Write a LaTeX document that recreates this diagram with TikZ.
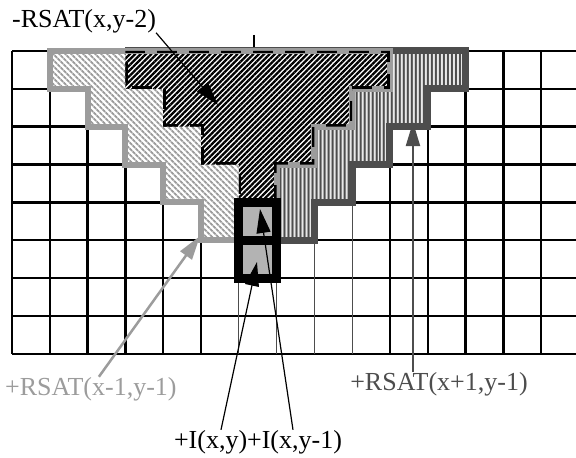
\documentclass[tikz,border=0pt]{standalone}
\usepackage{fontspec}
\setmainfont{Liberation Serif}
\usetikzlibrary{arrows.meta,patterns.meta}
\definecolor{rsatlight}{HTML}{9C9C9C}
\definecolor{rsatdark}{HTML}{4D4D4D}
\definecolor{pixgray}{HTML}{B3B3B3}

\begin{document}
\begin{tikzpicture}[x=37.8pt,y=-37.85pt,>={Triangle[length=24pt,width=14pt]},
  gridline/.style={line width=2.5pt},
  thinline/.style={line width=1pt,rsatdark},
  lab/.style={font=\fontsize{26}{30}\selectfont,inner sep=0pt}]
\useasboundingbox (-0.3175,-1.3474) rectangle (14.921,10.753);
% labels
\node[lab,anchor=base west] (dlab) at (0,-0.634) {-RSAT(x,y-2)};
\node[lab,anchor=base west,text=rsatlight] (lmlab) at (-0.185,9.089) {+RSAT(x-1,y-1)};
\node[lab,anchor=base,text=rsatdark] (rplab) at (11.296,8.957) {+RSAT(x+1,y-1)};
\node[lab,anchor=base] (ilab) at (6.508,10.489) {+I(x,y)+I(x,y-1)};
\coordinate (tipA) at (5.450,1.427);
\coordinate (tipB) at (4.974,4.888);
\coordinate (tipC) at (10.608,1.876);
\coordinate (tipD) at (6.481,5.575);
\coordinate (tipE) at (6.561,4.174);
% grid
\foreach \r in {0,...,8} \draw[gridline] (0,\r)--(15,\r);
\foreach \c in {0,1,2,3,4,5,10,11,12,13,14} \draw[gridline] (\c,0)--(\c,8);
\foreach \c in {6,...,9} \draw[thinline] (\c,0)--(\c,8);
\draw[line width=2pt] (6.415,-0.423)--(6.415,-0.079);
% RSAT(x-1,y-1)
\fill[white] (1,0)--(10,0)--(10,1)--(9,1)--(9,2)--(8,2)--(8,3)--(7,3)--(7,4)--(6,4)--(6,5)--(5,5)--(5,4)--(4,4)--(4,3)--(3,3)--(3,2)--(2,2)--(2,1)--(1,1)--cycle;
\fill[pattern={Lines[angle=-45,distance=4pt,line width=2.1pt]},pattern color=rsatlight]
  (1,0)--(10,0)--(10,1)--(9,1)--(9,2)--(8,2)--(8,3)--(7,3)--(7,4)--(6,4)--(6,5)--(5,5)--(5,4)--(4,4)--(4,3)--(3,3)--(3,2)--(2,2)--(2,1)--(1,1)--cycle;
% RSAT(x+1,y-1)
\fill[white] (3,0)--(12,0)--(12,1)--(11,1)--(11,2)--(10,2)--(10,3)--(9,3)--(9,4)--(8,4)--(8,5)--(7,5)--(7,4)--(6,4)--(6,3)--(5,3)--(5,2)--(4,2)--(4,1)--(3,1)--cycle;
\fill[pattern={Lines[angle=90,distance=4pt,line width=2.2pt]},pattern color=rsatdark]
  (3,0)--(12,0)--(12,1)--(11,1)--(11,2)--(10,2)--(10,3)--(9,3)--(9,4)--(8,4)--(8,5)--(7,5)--(7,4)--(6,4)--(6,3)--(5,3)--(5,2)--(4,2)--(4,1)--(3,1)--cycle;
% RSAT(x,y-2)
\fill[white] (3,0)--(10,0)--(10,1)--(9,1)--(9,2)--(8,2)--(8,3)--(7,3)--(7,4)--(6,4)--(6,3)--(5,3)--(5,2)--(4,2)--(4,1)--(3,1)--cycle;
\fill[pattern={Lines[angle=45,distance=3.8pt,line width=2.3pt]},pattern color=black]
  (3,0)--(10,0)--(10,1)--(9,1)--(9,2)--(8,2)--(8,3)--(7,3)--(7,4)--(6,4)--(6,3)--(5,3)--(5,2)--(4,2)--(4,1)--(3,1)--cycle;
\draw[->,line width=2pt,rsatdark] (tipC |- rplab.north)--(tipC);
% outlines
\draw[rsatdark,line width=7pt] (7,5)--(8,5)--(8,4)--(9,4)--(9,3)--(10,3)--(10,2)--(11,2)--(11,1)--(12,1)--(12,0)--(3,0);
\draw[rsatlight,line width=6pt] (1,0)--(10,0)--(10,1)--(9,1)--(9,2)--(8,2)--(8,3)--(7,3)--(7,4)--(6,4)--(6,5)--(5,5)--(5,4)--(4,4)--(4,3)--(3,3)--(3,2)--(2,2)--(2,1)--(1,1)--cycle;
\begin{scope}
\clip (3,0)--(10,0)--(10,1)--(9,1)--(9,2)--(8,2)--(8,3)--(7,3)--(7,4)--(6,4)--(6,3)--(5,3)--(5,2)--(4,2)--(4,1)--(3,1)--cycle;
\draw[line width=5pt,dash pattern=on 20pt off 12pt] (3,0)--(10,0)--(10,1)--(9,1)--(9,2)--(8,2)--(8,3)--(7,3)--(7,4)--(6,4)--(6,3)--(5,3)--(5,2)--(4,2)--(4,1)--(3,1)--cycle;
\end{scope}
% pixels I(x,y), I(x,y-1)
\fill[pixgray] (6,4) rectangle (7,6);
\draw[line width=9pt] (6,4) rectangle (7,6);
\draw[line width=9pt] (6,5)--(7,5);
% arrows
\draw[->,line width=1.2pt] (dlab.south east)--(tipA);
\draw[->,line width=2.5pt,rsatlight] ([xshift=8pt]lmlab.north)--(tipB);
\draw[->,line width=1.2pt] ([xshift=-37pt]ilab.north)--(tipD);
\draw[->,line width=1.2pt] ([xshift=35pt]ilab.north)--(tipE);
\end{tikzpicture}
\end{document}
